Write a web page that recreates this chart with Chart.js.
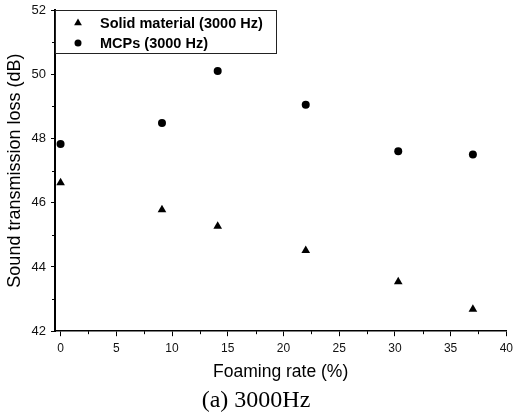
<!DOCTYPE html>
<html>
<head>
<meta charset="utf-8">
<script src="https://cdn.jsdelivr.net/npm/chart.js@4/dist/chart.umd.min.js"></script>
<style>
html,body{margin:0;padding:0;background:#fff;}
#wrap{width:518px;height:417px;}
</style>
</head>
<body>
<div id="wrap"><canvas id="c" width="518" height="417"></canvas></div>
<script>
// ---- data ----
const foamingRate = [0, 9.1, 14.1, 22, 30.3, 37];
const solidLoss   = [46.62, 45.78, 45.27, 44.51, 43.54, 42.68];
const mcpLoss     = [47.83, 48.48, 50.10, 49.05, 47.60, 47.50];
const seriesLabels = ['Solid material (3000 Hz)', 'MCPs (3000 Hz)'];
const xTicks = [0, 5, 10, 15, 20, 25, 30, 35, 40];
const yTicks = [42, 44, 46, 48, 50, 52];
const xMinor = [2.5, 7.5, 12.5, 17.5, 22.5, 27.5, 32.5, 37.5];
const yMinor = [43, 45, 47, 49, 51];
const xTitle = 'Foaming rate (%)';
const yTitle = 'Sound transmission loss (dB)';
const caption = '(a) 3000Hz';

const SANS = '"Liberation Sans", Arial, sans-serif';
const SERIF = '"Liberation Serif", "Times New Roman", serif';

const toPts = (xs, ys) => xs.map((x, i) => ({x: x, y: ys[i]}));

const extras = {
  id: 'extras',
  afterDraw(chart) {
    const ctx = chart.ctx;
    const xs = chart.scales.x, ys = chart.scales.y;
    const a = chart.chartArea;
    ctx.save();
    ctx.strokeStyle = '#000';
    ctx.lineWidth = 1;
    // minor ticks
    xMinor.forEach(v => {
      const px = Math.round(xs.getPixelForValue(v)) + 0.5;
      ctx.beginPath(); ctx.moveTo(px, a.bottom); ctx.lineTo(px, a.bottom + 3); ctx.stroke();
    });
    yMinor.forEach(v => {
      const py = Math.round(ys.getPixelForValue(v)) + 0.5;
      ctx.beginPath(); ctx.moveTo(a.left, py); ctx.lineTo(a.left - 3, py); ctx.stroke();
    });
    // legend box
    const lx = a.left, ly = a.top, lw = 221, lh = 43;
    ctx.strokeStyle = '#222';
    ctx.strokeRect(lx + 0.5, ly + 0.5, lw, lh);
    const ds = chart.data.datasets;
    ctx.font = 'bold 14.5px ' + SANS;
    ctx.textBaseline = 'middle';
    ctx.textAlign = 'left';
    ds.forEach((d, i) => {
      const cy = ly + 13 + i * 20;
      ctx.fillStyle = '#000';
      Chart.helpers.drawPoint(ctx, {pointStyle: d.pointStyle, radius: d.pointRadius - 0.5, rotation: 0, borderWidth: 0}, lx + 23, cy);
      ctx.fillStyle = '#000';
      ctx.fillText(d.label, lx + 45, cy + 1);
    });
    ctx.restore();
  }
};

new Chart(document.getElementById('c'), {
  type: 'scatter',
  data: {
    datasets: [
      {label: seriesLabels[0], data: toPts(foamingRate, solidLoss), pointStyle: 'triangle', pointRadius: 5, backgroundColor: '#000', borderColor: '#000', borderWidth: 0},
      {label: seriesLabels[1], data: toPts(foamingRate, mcpLoss), pointStyle: 'circle', pointRadius: 4, backgroundColor: '#000', borderColor: '#000', borderWidth: 0}
    ]
  },
  options: {
    responsive: false,
    animation: false,
    devicePixelRatio: 1,
    layout: {padding: {left: 0, right: 6, top: 10, bottom: 0}},
    plugins: {
      legend: {display: false},
      tooltip: {enabled: false},
      title: {
        display: true, position: 'bottom', text: caption, color: '#000',
        font: {family: SERIF, size: 24, weight: 'normal', lineHeight: 1.2},
        padding: {top: 2, bottom: 2}
      }
    },
    scales: {
      x: {
        type: 'linear', min: -0.5, max: 40,
        afterBuildTicks: s => { s.ticks = xTicks.map(v => ({value: v})); },
        afterFit: s => { s.height = 53; },
        grid: {drawOnChartArea: false, drawTicks: true, tickLength: 5, color: '#000', tickWidth: 1},
        border: {display: true, color: '#000', width: 1.5},
        ticks: {color: '#111', font: {family: SANS, size: 12}, padding: 5, maxRotation: 0},
        title: {display: true, text: xTitle, color: '#000', font: {family: SANS, size: 17.5}, padding: {top: 2, bottom: 2}}
      },
      y: {
        type: 'linear', min: 42, max: 52,
        afterBuildTicks: s => { s.ticks = yTicks.map(v => ({value: v})); },
        afterFit: s => { s.width = 55; s.paddingTop = 0; s.paddingBottom = 0; },
        grid: {drawOnChartArea: false, drawTicks: true, tickLength: 4, color: '#000', tickWidth: 1},
        border: {display: true, color: '#000', width: 2},
        ticks: {color: '#111', font: {family: SANS, size: 13, lineHeight: 1}, padding: 5},
        title: {display: true, text: yTitle, color: '#000', font: {family: SANS, size: 18}, padding: {top: 4, bottom: 0}}
      }
    }
  },
  plugins: [extras]
});
</script>
</body>
</html>
